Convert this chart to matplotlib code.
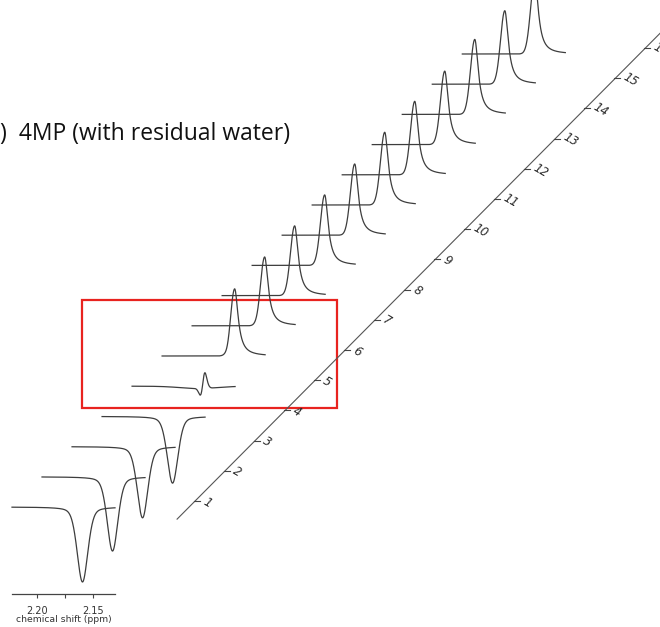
import numpy as np
import matplotlib
matplotlib.use("Agg")
import matplotlib.pyplot as plt
from matplotlib.patches import Rectangle

# experiment number of each stacked trace, bottom to top
exp_index = np.arange(1, 17)
# height of the 4MP methyl signal in each trace (first trace = -1)
peak_height = [-1.00, -0.99, -0.95, -0.89, 0.00, 0.90, 0.92, 0.93,
               0.94, 0.95, 0.97, 0.98, 0.98, 1.00, 0.98, 1.00]
# small phase dip just upfield of the peak
phase_dip = [0, 0, 0, 0, 0, -0.07, -0.03, 0, 0, 0, 0, 0, 0, 0, 0, 0]

# trace 5 is near the null and only shows a dispersive residue
null_shift = [2.1630, 2.1604, 2.1578, 2.1550]
null_height = [-0.03, -0.13, 0.25, 0.03]
null_width = [0.0200, 0.0024, 0.0020, 0.0018]

neg_center = 2.1594
pos_center = 2.1576
ppm_lo, ppm_hi = 2.1304, 2.2223
major_ticks = [2.20, 2.15]
minor_ticks = [2.175]

ppm_per_px = 0.05 / 56
dx = 30 * ppm_per_px   # horizontal shift between traces
dy = 30.2 / 75         # vertical shift between traces

line_col = "#3d3d3d"


def gauss(x, c, hw):
    return np.exp(-np.log(2) * ((x - c) / hw) ** 2)


def lorentz(x, c, hw):
    return 1.0 / (1.0 + ((x - c) / hw) ** 2)


def negative_line(x):
    hw = 6.3 * ppm_per_px
    return 0.7 * gauss(x, neg_center, hw) + 0.3 * lorentz(x, neg_center, hw)


def positive_line(x):
    left = gauss(x, pos_center, 5.0 * ppm_per_px)
    right = lorentz(x, pos_center, 4.2 * ppm_per_px)
    return np.where(x > pos_center, left, right)


ppm = np.linspace(ppm_hi, ppm_lo, 800)

fig = plt.figure(figsize=(6.6, 6.27), dpi=100)
ax = fig.add_axes([12 / 660, 33 / 627, 103 / 660, 594 / 627])
ax.set_xlim(ppm_hi, ppm_lo)
ax.set_ylim(-87 / 75, 507 / 75)

for i, k in enumerate(exp_index):
    h = peak_height[i]
    if h < 0:
        y = h * negative_line(ppm)
    else:
        y = h * positive_line(ppm)
    if phase_dip[i]:
        y = y + phase_dip[i] * gauss(ppm, pos_center + 6 * ppm_per_px, 3 * ppm_per_px)
    if k == 5:
        for c, a, w in zip(null_shift, null_height, null_width):
            y = y + a * gauss(ppm, c, w)
    ax.plot(ppm - (k - 1) * dx, y + (k - 1) * dy, color=line_col, lw=0.9,
            clip_on=False)

# diagonal axis for the experiment number
axis_ppm = 2.20 - (195 - 37) * ppm_per_px
axis_y = 6 / 75
t = np.array([0.4, 17.0])
ax.plot(axis_ppm - (t - 1) * dx, axis_y + (t - 1) * dy, color="#555555",
        lw=0.8, clip_on=False)
for k in exp_index:
    x0 = axis_ppm - (k - 1) * dx
    y0 = axis_y + (k - 1) * dy
    ax.plot([x0 + 1 * ppm_per_px, x0 - 5 * ppm_per_px], [y0, y0],
            color="#444444", lw=0.8, clip_on=False)
    ax.text(x0 - 5.5 * ppm_per_px, y0 - 1.5 / 75, str(k), fontsize=8.5,
            style="italic", rotation=-30, ha="left", va="center",
            color="#2a2a2a", clip_on=False)

# highlight box around the traces passing through the null
box_left = 2.20 - (82 - 37) * ppm_per_px
box_right = 2.20 - (337 - 37) * ppm_per_px
ax.add_patch(Rectangle((box_right, 99 / 75), box_left - box_right, 108 / 75,
                       fill=False, edgecolor="#e8231f", lw=1.6,
                       clip_on=False))

for side in ["top", "left", "right"]:
    ax.spines[side].set_visible(False)
ax.spines["bottom"].set_color("#444444")
ax.spines["bottom"].set_linewidth(0.9)
ax.set_yticks([])
ax.set_xticks(major_ticks)
ax.set_xticklabels(["%.2f" % v for v in major_ticks])
ax.set_xticks(minor_ticks, minor=True)
ax.tick_params(axis="x", which="both", direction="out", length=3,
               width=0.8, color="#444444", labelsize=7, pad=5.5,
               labelcolor="#333333")
ax.set_xlabel("chemical shift (ppm)", fontsize=6.7, labelpad=-0.5,
              color="#333333")
ax.patch.set_alpha(0)

fig.text(0 / 660, 1 - 134 / 627, ")  4MP (with residual water)",
         fontsize=16.5, family=["Open Sans", "DejaVu Sans"], ha="left",
         va="center", color="#111111")

fig.savefig("out.png", dpi=100)
